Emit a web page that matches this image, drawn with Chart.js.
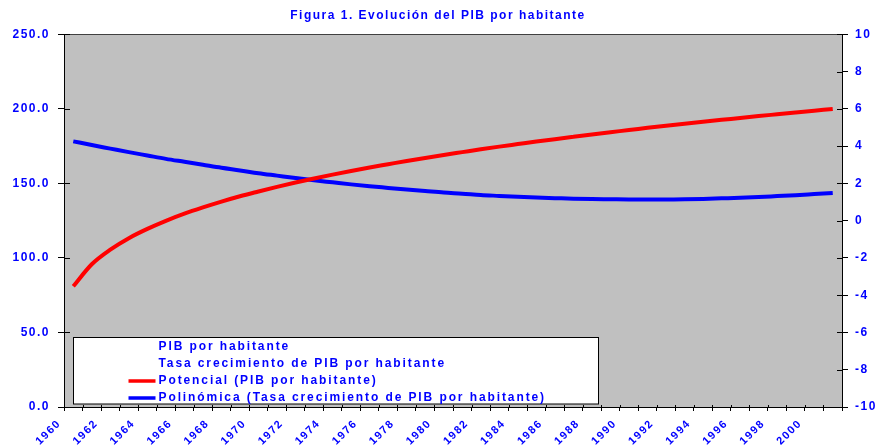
<!DOCTYPE html>
<html><head><meta charset="utf-8">
<script src="https://cdn.jsdelivr.net/npm/chart.js@4"></script>
<style>html,body{margin:0;padding:0;background:#fff}#wrap{width:876px;height:446px;position:relative}</style>
</head><body><div id="wrap"><canvas id="c" width="876" height="446"></canvas></div>
<script>
const titleText = 'Figura 1. Evolución del PIB por habitante';
const years = ['1960','1961','1962','1963','1964','1965','1966','1967','1968','1969','1970','1971','1972','1973','1974','1975','1976','1977','1978','1979','1980','1981','1982','1983','1984','1985','1986','1987','1988','1989','1990','1991','1992','1993','1994','1995','1996','1997','1998','1999','2000','2001'];
const seriesNames = ['PIB por habitante','Tasa crecimiento de PIB por habitante','Potencial (PIB por habitante)','Polinómica (Tasa crecimiento de PIB por habitante)'];
const pibValues = [];
const tasaValues = [];
const potencialValues = [81.0,95.8,105.6,113.3,119.5,124.9,129.7,133.9,137.8,141.4,144.6,147.7,150.6,153.3,155.9,158.4,160.7,162.9,165.1,167.1,169.1,171.0,172.9,174.7,176.4,178.1,179.7,181.3,182.9,184.4,185.8,187.3,188.7,190.0,191.4,192.7,193.9,195.2,196.4,197.6,198.8,200.0];
const polinomicaValues = [4.26,4.06,3.87,3.68,3.50,3.32,3.16,3.00,2.84,2.70,2.55,2.42,2.29,2.17,2.06,1.95,1.85,1.76,1.67,1.59,1.51,1.45,1.38,1.33,1.28,1.24,1.21,1.18,1.16,1.15,1.14,1.14,1.14,1.15,1.17,1.20,1.23,1.27,1.32,1.37,1.43,1.49];
const leftTickLabels = ['0.0','50.0','100.0','150.0','200.0','250.0'];
const rightTickLabels = ['-10','-8','-6','-4','-2','0','2','4','6','8','10'];

const BLUE = '#0000FF';
Chart.defaults.font.family = '"Liberation Sans", Arial, sans-serif';

const plotBg = {
  id: 'plotBg',
  beforeDraw(chart) {
    const ctx = chart.ctx, a = chart.chartArea;
    ctx.letterSpacing = '1.5px';
    ctx.save();
    ctx.fillStyle = '#C0C0C0';
    ctx.fillRect(a.left, a.top, a.right - a.left, a.bottom - a.top);
    ctx.strokeStyle = '#404040';
    ctx.lineWidth = 1;
    ctx.beginPath();
    ctx.moveTo(a.left, Math.round(a.top) + 0.5);
    ctx.lineTo(a.right, Math.round(a.top) + 0.5);
    ctx.stroke();
    ctx.restore();
  }
};

const crossTicks = {
  id: 'crossTicks',
  afterDraw(chart) {
    const ctx = chart.ctx;
    const xs = chart.scales.x, ys = chart.scales.y, y1 = chart.scales.y1;
    ctx.save();
    ctx.strokeStyle = '#000';
    ctx.lineWidth = 1;
    ctx.beginPath();
    const n = xs.ticks.length;
    const step = (xs.right - xs.left) / n;
    for (let i = 0; i <= n; i++) {
      const px = Math.round(xs.left + i * step) + 0.5;
      ctx.moveTo(px, xs.top);
      ctx.lineTo(px, xs.top - 2);
    }
    ys.ticks.forEach((t, i) => {
      const py = Math.round(ys.getPixelForTick(i)) + 0.5;
      ctx.moveTo(ys.right, py); ctx.lineTo(ys.right + 6, py);
    });
    y1.ticks.forEach((t, i) => {
      const py = Math.round(y1.getPixelForTick(i)) + 0.5;
      ctx.moveTo(y1.left, py); ctx.lineTo(y1.left - 5, py);
    });
    ctx.stroke();
    ctx.restore();
  }
};

const boxLegend = {
  id: 'boxLegend',
  afterDraw(chart) {
    const ctx = chart.ctx, a = chart.chartArea;
    const x0 = a.left + 9.5, y0 = 337.5, w = 525, h = 66.5;
    ctx.save();
    ctx.fillStyle = '#FFFFFF';
    ctx.fillRect(x0, y0, w, h);
    ctx.strokeStyle = '#000';
    ctx.lineWidth = 1;
    ctx.strokeRect(x0, y0, w, h);
    ctx.font = 'bold 12px "Liberation Sans", Arial, sans-serif';
    ctx.letterSpacing = '1.9px';
    ctx.textBaseline = 'middle';
    ctx.textAlign = 'left';
    chart.data.datasets.forEach((ds, i) => {
      const y = 347 + i * 17;
      if (ds.borderColor && ds.borderColor !== 'transparent') {
        ctx.strokeStyle = ds.borderColor;
        ctx.lineWidth = 3.5;
        ctx.beginPath();
        ctx.moveTo(x0 + 55, y);
        ctx.lineTo(x0 + 82, y);
        ctx.stroke();
      }
      ctx.fillStyle = BLUE;
      ctx.fillText(ds.label, x0 + 85, y);
    });
    ctx.restore();
  }
};

new Chart(document.getElementById('c'), {
  type: 'line',
  data: {
    labels: years,
    datasets: [
      { label: seriesNames[0], data: pibValues, yAxisID: 'y', borderColor: 'transparent', pointRadius: 0 },
      { label: seriesNames[1], data: tasaValues, yAxisID: 'y1', borderColor: 'transparent', pointRadius: 0 },
      { label: seriesNames[2], data: potencialValues, yAxisID: 'y', borderColor: '#FF0000', borderWidth: 4, pointRadius: 0, cubicInterpolationMode: 'monotone', fill: false },
      { label: seriesNames[3], data: polinomicaValues, yAxisID: 'y1', borderColor: '#0000FF', borderWidth: 4, pointRadius: 0, cubicInterpolationMode: 'monotone', fill: false }
    ]
  },
  options: {
    responsive: false,
    devicePixelRatio: 1,
    animation: false,
    layout: { padding: 0 },
    plugins: {
      legend: { display: false },
      tooltip: { enabled: false },
      title: {
        display: true, text: titleText, color: BLUE,
        font: { size: 12, weight: 'bold' },
        padding: { top: 8, bottom: 12 }
      }
    },
    scales: {
      x: {
        type: 'category',
        offset: true,
        grid: { offset: true, drawOnChartArea: false, drawTicks: true, tickLength: 4, color: '#000' },
        border: { display: true, color: '#000' },
        ticks: {
          autoSkip: false, minRotation: 45, maxRotation: 45,
          color: BLUE, font: { size: 11, weight: 'bold' }, padding: 6, labelOffset: -14,
          callback: (v, i) => (i % 2 === 0 ? years[i] : '')
        },
        afterFit: s => { s.height = 39; }
      },
      y: {
        position: 'left', min: 0, max: 250,
        ticks: { stepSize: 50, color: BLUE, font: { size: 12, weight: 'bold' }, padding: 8,
          callback: (v, i) => leftTickLabels[i] },
        grid: { drawOnChartArea: false, tickLength: 6, color: '#000' },
        border: { display: true, color: '#000' },
        afterFit: s => { s.width = 64; }
      },
      y1: {
        position: 'right', min: -10, max: 10,
        ticks: { stepSize: 2, color: BLUE, font: { size: 12, weight: 'bold' }, padding: 7,
          callback: (v, i) => rightTickLabels[i] },
        grid: { drawOnChartArea: false, tickLength: 6, color: '#000' },
        border: { display: true, color: '#000' },
        afterFit: s => { s.width = 34; }
      }
    }
  },
  plugins: [plotBg, crossTicks, boxLegend]
});
</script></body></html>
